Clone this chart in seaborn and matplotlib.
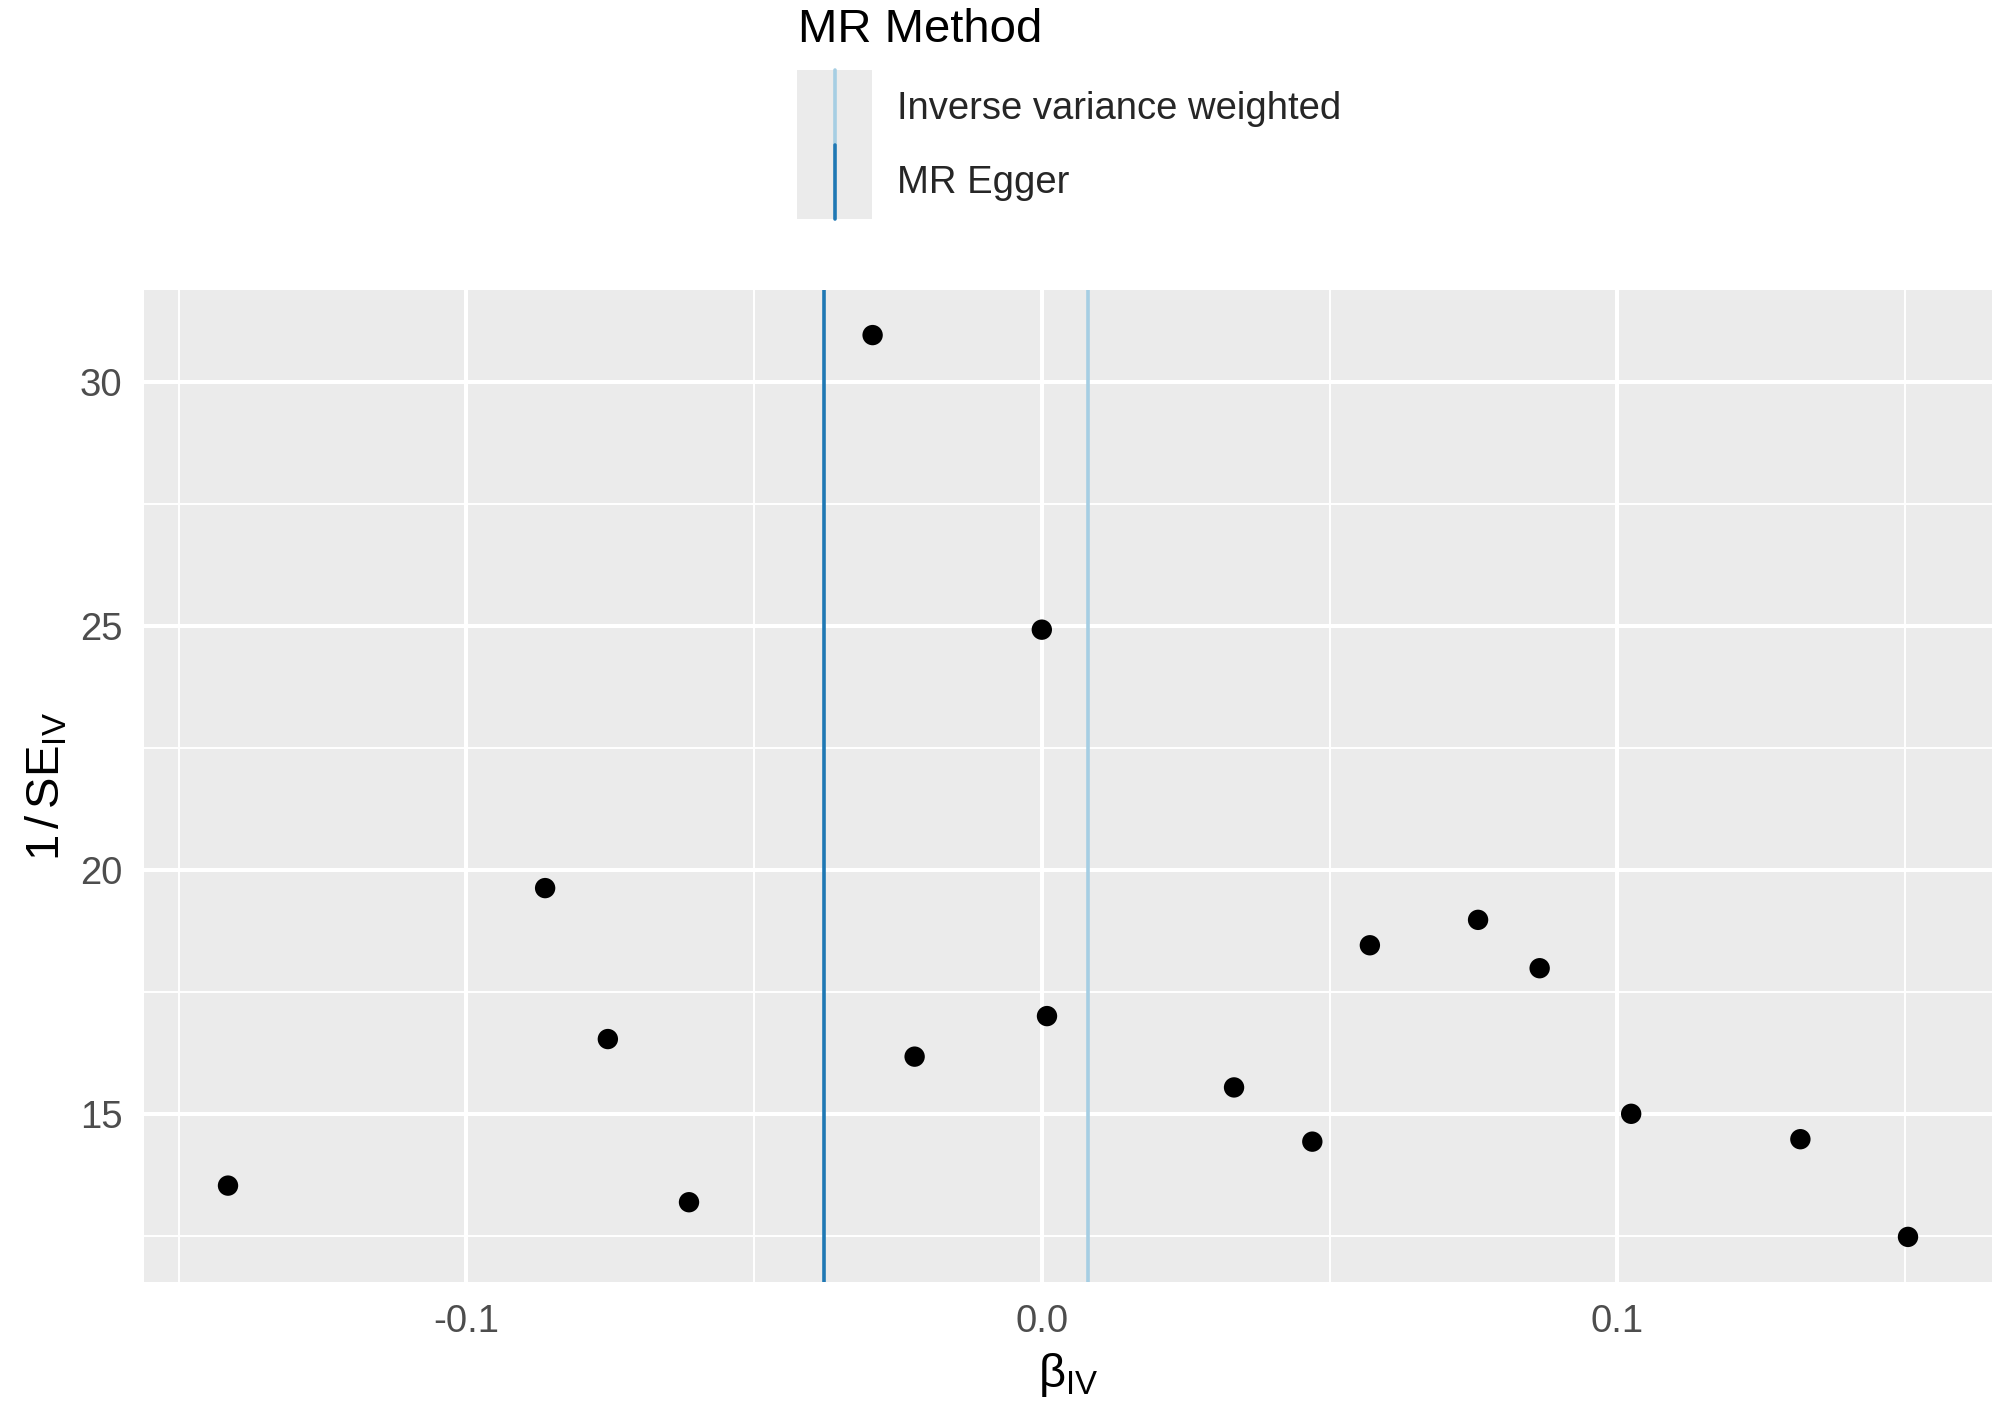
import matplotlib
matplotlib.use("Agg")
import matplotlib.pyplot as plt
import seaborn as sns
import pandas as pd
import numpy as np
from matplotlib.legend_handler import HandlerBase
from matplotlib.patches import Rectangle
from matplotlib.lines import Line2D

# ---- data ----
beta_iv = [-0.1414, -0.0863, -0.0754, -0.0613, -0.0294, -0.0221, 0.0000, 0.0009,
           0.0334, 0.0470, 0.0570, 0.0758, 0.0865, 0.1024, 0.1318, 0.1505]
inv_se = [13.54, 19.63, 16.54, 13.20, 30.95, 16.18, 24.92, 17.01,
          15.55, 14.44, 18.46, 18.98, 17.99, 15.01, 14.49, 12.49]
methods = ["Inverse variance weighted", "MR Egger"]
method_b = [0.0081, -0.0378]
method_colors = ["#A6CEE3", "#1F78B4"]
x_ticks = [-0.1, 0.0, 0.1]
x_ticklabels = ["-0.1", "0.0", "0.1"]
y_ticks = [15, 20, 25, 30]

sns.set_theme(style="darkgrid")
plt.rcParams["font.family"] = ["Liberation Sans", "DejaVu Sans"]
plt.rcParams["mathtext.fontset"] = "custom"
plt.rcParams["mathtext.rm"] = "Liberation Sans"
plt.rcParams["mathtext.it"] = "Liberation Sans:italic"
plt.rcParams["mathtext.bf"] = "Liberation Sans:bold"

W, H = 2000, 1406
fig = plt.figure(figsize=(W / 100, H / 100), dpi=100, facecolor="white")
ax = fig.add_axes([144 / W, 1 - 1282 / H, (1992 - 144) / W, (1282 - 290) / H])
ax.set_facecolor("#EBEBEB")

df = pd.DataFrame({"b": beta_iv, "inv_se": inv_se})

# vertical method lines
for m, b, c in zip(methods, method_b, method_colors):
    ax.axvline(b, color=c, lw=2.6, label=m, zorder=2)

sns.scatterplot(data=df, x="b", y="inv_se", ax=ax, color="black", s=215,
                edgecolor="none", linewidth=0, zorder=3, legend=False)

# ggplot-like expansion
xr = max(beta_iv) - min(beta_iv)
yr = max(inv_se) - min(inv_se)
ax.set_xlim(min(beta_iv) - 0.05 * xr, max(beta_iv) + 0.05 * xr)
ax.set_ylim(min(inv_se) - 0.05 * yr, max(inv_se) + 0.05 * yr)

ax.set_xticks(x_ticks)
ax.set_xticklabels(x_ticklabels)
ax.set_yticks(y_ticks)
ax.set_xticks([-0.15, -0.05, 0.05, 0.15], minor=True)
ax.set_yticks([12.5, 17.5, 22.5, 27.5], minor=True)
ax.grid(which="major", color="white", lw=2.9)
ax.grid(which="minor", color="white", lw=1.4)
ax.set_axisbelow(True)
for s in ax.spines.values():
    s.set_visible(False)

ax.tick_params(axis="both", which="major", length=8.6, width=1.8, color="#333333",
               labelsize=27.5, labelcolor="#4D4D4D", pad=7)
ax.tick_params(axis="both", which="minor", length=0)

ax.set_xlabel(r"$\mathrm{\beta}_{\mathrm{IV}}$", fontsize=34, color="black", labelpad=8)
ax.set_ylabel(r"$\mathrm{1\,/\,SE}_{\mathrm{IV}}$", fontsize=34, color="black", labelpad=7)


class VLineKeyHandler(HandlerBase):
    def create_artists(self, legend, orig_handle, xdescent, ydescent, width, height,
                       fontsize, trans):
        rect = Rectangle((-xdescent, -ydescent), width, height, facecolor="#EBEBEB",
                         edgecolor="none", transform=trans)
        cx = -xdescent + width / 2
        line = Line2D([cx, cx], [-ydescent, -ydescent + height],
                      color=orig_handle.get_color(), lw=2.6, transform=trans)
        return [rect, line]


handles, labels = ax.get_legend_handles_labels()
fs = 27.5
fs_px = fs * 100 / 72
row_px = 74.5
hh = (row_px / fs_px - 0.245) / 0.65
fig.legend(handles, labels, loc="upper left",
           bbox_to_anchor=(797 / W, 1 - 70 / H), bbox_transform=fig.transFigure,
           frameon=False, fontsize=fs, borderpad=0, borderaxespad=0,
           handlelength=75 / fs_px, handleheight=hh,
           handletextpad=25 / fs_px, labelspacing=0,
           handler_map={Line2D: VLineKeyHandler()})
fig.text(798 / W, 1 - 42 / H, "MR Method", fontsize=34, color="black",
         ha="left", va="baseline")

fig.savefig("out.png", dpi=100, facecolor="white")
